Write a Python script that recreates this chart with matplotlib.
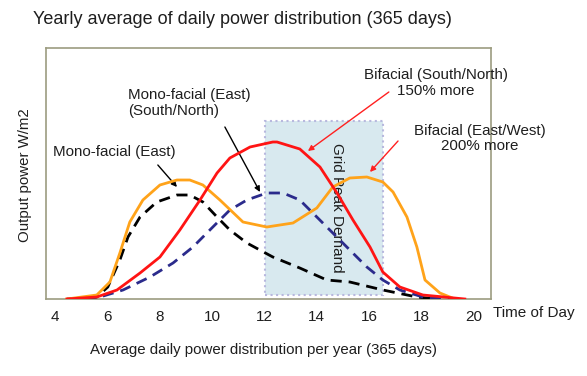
import numpy as np
import matplotlib
matplotlib.use("Agg")
import matplotlib.pyplot as plt
from matplotlib.patches import Rectangle

plt.rcParams['font.family'] = ['Liberation Sans', 'DejaVu Sans']

# values (hour of day, output power in arbitrary units)
hours_bif_ew = [4.46, 5.6, 6.1, 6.48, 6.86, 7.36, 8.01, 8.66, 9.15, 9.65, 10.3, 11.18,
                12.09, 13.09, 14.0, 14.61, 15.26, 15.91, 16.52, 16.91, 17.44, 17.82,
                18.13, 18.7, 19.27]
power_bif_ew = [0, 4, 17, 46, 77, 99, 114, 119, 119, 114, 99, 77,
                72, 76, 91, 112, 121, 122, 117, 107, 82, 52,
                19, 6, 0]

hours_bif_sn = [4.46, 5.6, 6.37, 7.25, 8.01, 8.77, 9.54, 10.19, 10.68, 11.45, 12.32,
                12.48, 13.35, 14.12, 14.77, 15.38, 16.03, 16.52, 17.17, 18.05, 19.65]
power_bif_sn = [0, 2, 9, 26, 42, 69, 99, 126, 141, 152, 157,
                157, 150, 132, 106, 79, 52, 27, 12, 4, 0]

hours_mono_e = [4.57, 5.6, 6.02, 6.48, 6.79, 7.25, 7.89, 8.66, 9.15, 9.65, 10.19,
                10.68, 11.33, 12.32, 13.35, 14.38, 15.26, 16.52, 17.82, 18.59]
power_mono_e = [0, 2, 12, 39, 62, 82, 97, 104, 104, 97, 82,
                69, 56, 42, 31, 19, 17, 9, 2, 0]

hours_mono_sn = [4.46, 5.72, 6.6, 7.63, 8.51, 9.27, 10.03, 10.68, 11.33, 12.09, 12.71,
                 13.35, 14.0, 14.61, 15.26, 15.91, 16.52, 17.17, 18.05, 19.08]
power_mono_sn = [0, 2, 9, 22, 36, 52, 72, 89, 99, 106, 106,
                 99, 82, 66, 49, 32, 19, 9, 2, 0]

xticks = [4, 6, 8, 10, 12, 14, 16, 18, 20]
peak_start, peak_end, peak_top = 12.02, 16.52, 178

txt = '#1e1e1e'

fig = plt.figure(figsize=(5.87, 3.76), dpi=100)
ax = fig.add_axes([46/587, 77/376, 445/587, 251/376])
ax.set_xlim(3.66, 20.65)
ax.set_ylim(0, 251)

ax.add_patch(Rectangle((peak_start, 4), peak_end - peak_start, peak_top - 4,
                       facecolor='#d8e9ef', edgecolor='#b8b8de', lw=1.5,
                       linestyle=':', zorder=1))
ax.text((peak_start + peak_end) / 2 + 0.5, 91, 'Grid Peak Demand', rotation=-90,
        ha='center', va='center', fontsize=11, color=txt, zorder=2)

ax.plot(hours_mono_e, power_mono_e, color='black', lw=2, dashes=(4, 2.5), zorder=3)
ax.plot(hours_mono_sn, power_mono_sn, color='#2b2b8c', lw=2, dashes=(4, 2.5), zorder=3)
ax.plot(hours_bif_ew, power_bif_ew, color='#ffa31a', lw=2, zorder=4)
ax.plot(hours_bif_sn, power_bif_sn, color='#ff1414', lw=2, zorder=5)

ax.set_xticks(xticks)
ax.set_xticklabels([str(t) for t in xticks])
ax.set_yticks([])
ax.tick_params(axis='x', length=0, pad=8, labelsize=11, labelcolor=txt)
for s in ax.spines.values():
    s.set_color('#9c9c80')
    s.set_linewidth(1.2)

# labels
ax.text(3.92, 147, 'Mono-facial (East)', ha='left', va='center',
        fontsize=10.9, color=txt)
ax.text(6.79, 196, 'Mono-facial (East)\n(South/North)', ha='left', va='center',
        fontsize=10.9, color=txt, linespacing=1.1)
ax.text(18.55, 216, 'Bifacial (South/North)\n150% more', ha='center', va='center',
        fontsize=10.9, color=txt, linespacing=1.1, clip_on=False)
ax.text(20.23, 160.5, 'Bifacial (East/West)\n200% more', ha='center', va='center',
        fontsize=10.9, color=txt, linespacing=1.1, clip_on=False)

# arrows: (tail, head, colour)
arrows = [((7.93, 134), (8.66, 112), 'black'),
          ((10.49, 172), (11.83, 107), 'black'),
          ((16.75, 207), (13.66, 148), '#ff2020'),
          ((17.10, 158), (16.03, 127), '#ff2020')]
for tail, head, col in arrows:
    ax.annotate('', xy=head, xytext=tail,
                arrowprops=dict(arrowstyle='-|>', color=col, lw=1,
                                mutation_scale=8, shrinkA=0, shrinkB=0))

fig.text(33/587, 1 - 20/376, 'Yearly average of daily power distribution (365 days)',
         ha='left', va='center', fontsize=13, color=txt)
fig.text(25/587, 1 - 175/376, 'Output power W/m2', rotation=90,
         ha='center', va='center', fontsize=10.8, color=txt)
fig.text(493/587, 1 - 313/376, 'Time of Day', ha='left', va='center',
         fontsize=11, color=txt)
fig.text(263/587, 1 - 350/376, 'Average daily power distribution per year (365 days)',
         ha='center', va='center', fontsize=10.8, color=txt)

fig.savefig('out.png', dpi=100)
